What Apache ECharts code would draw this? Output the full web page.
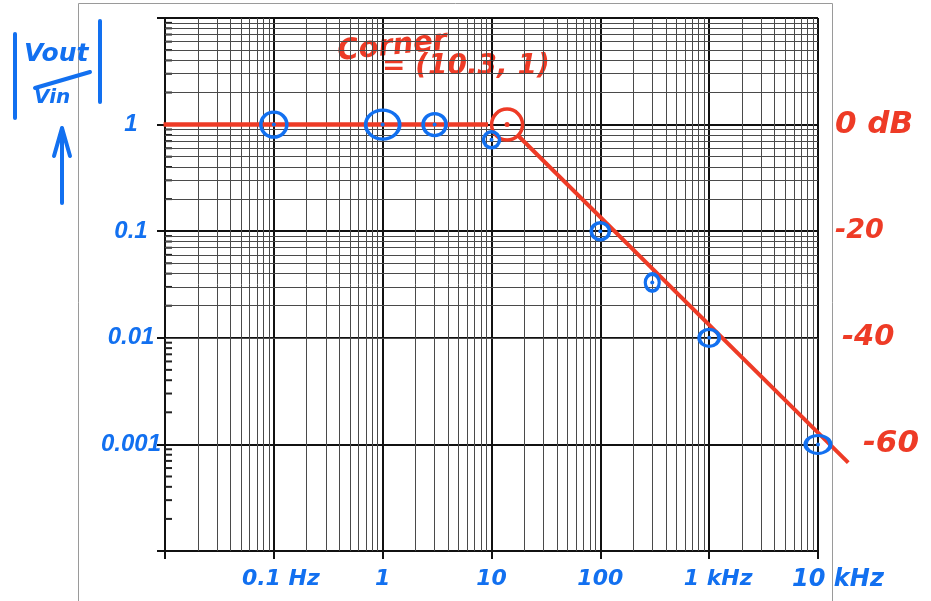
<!DOCTYPE html>
<html lang="en" style="height: 100%">
  <head>
    <meta charset="utf-8" />
  </head>
  <body style="height: 100%; margin: 0; background: #fff">
    <div id="container" style="width: 931px; height: 601px"></div>

    <script
      type="text/javascript"
      src="https://cdn.jsdelivr.net/npm/echarts@6.0.0/dist/echarts.min.js"
    ></script>
    <script type="text/javascript">
      // axis labels (handwritten on the sheet)
      const xLabelValues = [0.1, 1, 10, 100, 1000, 10000];
      const xLabelTexts = ["0.1 Hz", "1", "10", "100", "1 kHz", "10 kHz"];
      const yLabelValues = [1, 0.1, 0.01, 0.001];
      const yLabelTexts = ["1", "0.1", "0.01", "0.001"];
      const dbLabelTexts = ["0 dB", "-20", "-40", "-60"];

      // measured points (blue circles)
      const measuredFreq = [0.1, 1, 3, 10, 100, 300, 1000, 10000];
      const measuredGain = [1, 1, 1, 0.72, 0.1, 0.033, 0.01, 0.001];

      // red asymptote sketch
      const flatPart = [[0.0097, 1], [9.3, 1]];
      const slopePart = [[17.5, 0.79], [18970, 0.000675]];
      const cornerPoint = [13.9, 1];

      // graph paper
      const mantissas = [2, 3, 4, 5, 6, 7, 8, 9];
      const xDecades = [0.01, 0.1, 1, 10, 100, 1000];
      const yDecades = [0.0001, 0.001, 0.01, 0.1, 1];

      // ring sizes of the hand drawn circles (style only)
      const ringSizes = [[26, 25], [34, 29], [23, 22], [16, 16], [18, 17], [14, 17], [20, 17], [25, 18]];

      const red = "#ee3b26";
      const blue = "#1270f0";
      const hand = {
        fontFamily: "DejaVu Sans",
        fontStyle: "italic",
        fontWeight: "bold",
      };
      const handNarrow = {
        fontFamily: "Liberation Sans",
        fontStyle: "italic",
        fontWeight: "bold",
      };

      function findLabel(values, v) {
        for (let i = 0; i < values.length; i++) {
          if (Math.abs(Math.log10(v) - Math.log10(values[i])) < 1e-6) return i;
        }
        return -1;
      }

      const vLines = [];
      xDecades.forEach((d) => mantissas.forEach((m) => vLines.push({ xAxis: m * d })));
      const hLines = [];
      const stubs = [];
      yDecades.forEach((d) =>
        mantissas.forEach((m) => {
          hLines.push({ yAxis: m * d });
          stubs.push([0.01, m * d]);
        })
      );

      var dom = document.getElementById("container");
      var myChart = echarts.init(dom, null, { renderer: "canvas" });

      var option = {
        animation: false,
        grid: [
          { left: 165, right: 113, top: 18, bottom: 50 },
          // same scale, one more decade to the right, for the overshooting line
          { left: 165, right: 4.2, top: 18, bottom: 50 },
        ],
        xAxis: [
          {
            type: "log",
            logBase: 10,
            min: 0.01,
            max: 10000,
            axisLine: { show: true, lineStyle: { color: "#111", width: 2 } },
            axisTick: { show: true, length: 8, lineStyle: { color: "#111", width: 2 } },
            splitLine: { show: true, lineStyle: { color: "#111", width: 2 } },
            axisLabel: {
              showMinLabel: true,
              showMaxLabel: true,
              margin: 17,
              formatter: function (v) {
                const i = findLabel(xLabelValues, v);
                if (i < 0) return "";
                const t = xLabelTexts[i];
                if (t === "0.1 Hz") return "{b|" + t + "}";
                if (t === "1 kHz") return "{c|" + t + "}";
                if (t === "10 kHz") return "{d|" + t + "}";
                return "{a|" + t + "}";
              },
              rich: {
                a: Object.assign({ color: blue, fontSize: 22 }, hand),
                b: Object.assign({ color: blue, fontSize: 22, padding: [0, 0, 0, 14] }, hand),
                c: Object.assign({ color: blue, fontSize: 22, padding: [0, 0, 0, 18] }, hand),
                d: Object.assign({ color: blue, fontSize: 24, padding: [0, 0, 0, 40] }, hand),
              },
            },
          },
          {
            type: "log",
            logBase: 10,
            min: 0.01,
            max: 100000,
            gridIndex: 1,
            show: false,
          },
        ],
        yAxis: [
          {
            type: "log",
            logBase: 10,
            min: 0.0001,
            max: 10,
            axisLine: { show: true, lineStyle: { color: "#111", width: 2 } },
            axisTick: { show: true, length: 8, lineStyle: { color: "#111", width: 2 } },
            splitLine: { show: true, lineStyle: { color: "#111", width: 2 } },
            axisLabel: Object.assign(
              {
                color: blue,
                fontSize: 24,
                margin: 34,
                align: "center",
                showMinLabel: true,
                showMaxLabel: true,
                formatter: function (v) {
                  const i = findLabel(yLabelValues, v);
                  return i < 0 ? "" : yLabelTexts[i];
                },
              },
              handNarrow
            ),
          },
          {
            type: "log",
            logBase: 10,
            min: 0.0001,
            max: 10,
            position: "right",
            axisLine: { show: false },
            axisTick: { show: false },
            splitLine: { show: false },
            axisLabel: {
              margin: 17,
              align: "left",
              formatter: function (v) {
                const i = findLabel(yLabelValues, v);
                if (i < 0) return "";
                return "{r" + i + "|" + dbLabelTexts[i] + "}";
              },
              rich: {
                r0: Object.assign({ color: red, fontSize: 31 }, hand),
                r1: Object.assign({ color: red, fontSize: 27 }, hand),
                r2: Object.assign({ color: red, fontSize: 29, padding: [0, 0, 0, 7] }, hand),
                r3: Object.assign({ color: red, fontSize: 31, padding: [0, 0, 0, 28] }, hand),
              },
            },
          },
          {
            type: "log",
            logBase: 10,
            min: 0.0001,
            max: 10,
            gridIndex: 1,
            show: false,
          },
        ],
        graphic: [
          // sheet edge
          {
            type: "rect",
            shape: { x: 78.5, y: 3.5, width: 754, height: 660 },
            style: { fill: "none", stroke: "#9a9a9a", lineWidth: 1 },
            z: -1,
            silent: true,
          },
          // |Vout / Vin| with arrow
          { type: "line", shape: { x1: 15, y1: 34, x2: 15, y2: 118 }, style: { stroke: blue, lineWidth: 4, lineCap: "round" } },
          { type: "line", shape: { x1: 100, y1: 21, x2: 100, y2: 102 }, style: { stroke: blue, lineWidth: 4, lineCap: "round" } },
          {
            type: "text",
            left: 24,
            top: 42,
            style: Object.assign({ text: "Vout", fill: blue, fontSize: 25 }, hand),
          },
          { type: "line", shape: { x1: 35, y1: 88, x2: 90, y2: 72 }, style: { stroke: blue, lineWidth: 4, lineCap: "round" } },
          {
            type: "text",
            left: 34,
            top: 88,
            style: Object.assign({ text: "Vin", fill: blue, fontSize: 20 }, hand),
          },
          { type: "line", shape: { x1: 62, y1: 203, x2: 62, y2: 129 }, style: { stroke: blue, lineWidth: 4, lineCap: "round" } },
          {
            type: "polyline",
            shape: { points: [[54, 156], [62, 128], [70, 156]] },
            style: { stroke: blue, lineWidth: 4, lineCap: "round", lineJoin: "round", fill: "none" },
          },
          // corner note
          {
            type: "text",
            left: 336,
            top: 27,
            rotation: 0.1,
            style: Object.assign({ text: "Corner", fill: red, fontSize: 29 }, hand),
          },
          {
            type: "text",
            left: 382,
            top: 53,
            style: Object.assign({ text: "= (10.3, 1)", fill: red, fontSize: 28 }, hand),
          },
        ],
        series: [
          {
            // graph paper minor lines + left stubs
            type: "scatter",
            z: 1,
            silent: true,
            symbol: "rect",
            symbolSize: [7, 2],
            symbolOffset: [3.5, 0],
            itemStyle: { color: "#222", opacity: 1 },
            data: stubs,
            markLine: {
              silent: true,
              symbol: ["none", "none"],
              label: { show: false },
              lineStyle: { color: "#4a4a4a", width: 1, type: "solid" },
              data: vLines.concat(hLines),
            },
          },
          {
            type: "line",
            z: 5,
            symbol: "none",
            lineStyle: { color: red, width: 4.5 },
            data: flatPart,
          },
          {
            type: "line",
            z: 5,
            xAxisIndex: 1,
            yAxisIndex: 2,
            symbol: "none",
            lineStyle: { color: red, width: 4 },
            data: slopePart,
          },
          {
            type: "scatter",
            z: 6,
            symbol: "circle",
            symbolSize: 31,
            itemStyle: { color: "rgba(0,0,0,0)", borderColor: red, borderWidth: 3.5, opacity: 1 },
            data: [cornerPoint],
          },
          {
            type: "scatter",
            z: 7,
            symbol: "circle",
            symbolSize: 5,
            itemStyle: { color: red, opacity: 1 },
            data: [cornerPoint],
          },
          {
            type: "scatter",
            z: 8,
            symbol: "circle",
            itemStyle: { color: "rgba(0,0,0,0)", borderColor: blue, borderWidth: 3.5, opacity: 1 },
            data: measuredFreq.map((f, i) => ({
              value: [f, measuredGain[i]],
              symbolSize: ringSizes[i],
            })),
          },
          {
            type: "scatter",
            z: 9,
            symbol: "circle",
            symbolSize: 4,
            itemStyle: { color: blue, opacity: 1 },
            data: measuredFreq.map((f, i) => [f, measuredGain[i]]),
          },
        ],
      };

      myChart.setOption(option);
      window.addEventListener("resize", myChart.resize);
    </script>
  </body>
</html>
